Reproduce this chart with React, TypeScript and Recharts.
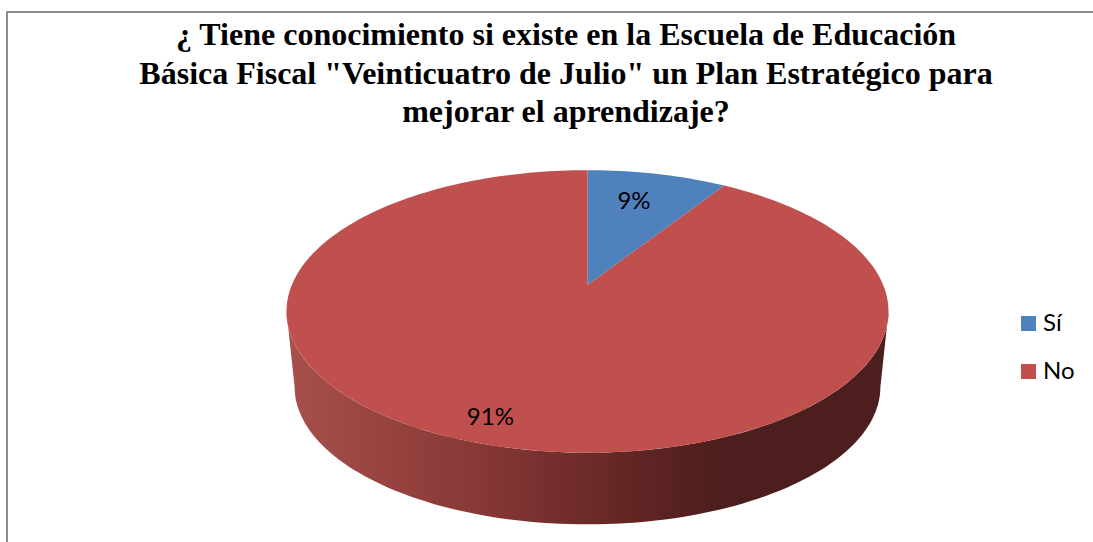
import { PieChart, Pie, Legend } from 'recharts';

const CATEGORIES = ['Sí', 'No'];
const VALUES = [9, 91];
const COLORS = ['#4f81bd', '#bf504d'];
const TITLE_LINES = [
  '¿ Tiene conocimiento si existe en la Escuela de Educación',
  'Básica Fiscal "Veinticuatro de Julio" un Plan Estratégico para',
  'mejorar el aprendizaje?',
];

const data = CATEGORIES.map((name, i) => ({ name, value: VALUES[i], fill: COLORS[i] }));

// the pie is seen in perspective, so its centre is not the middle of the ellipse
const PERSPECTIVE = 0.187;
const TILT = 0.461;
const WALL_START = 100.8;
const WALL_END = 259.2;
const WALL_DEPTH = 75.5;
const WALL_SHRINK = 0.973;
const LABEL_RADIUS = [0.734, 0.853];
const LABEL_SHIFT = [-7, -14];

function project(cx: number, cy: number, r: number, theta: number, f = 1) {
  const rad = (theta * Math.PI) / 180;
  const u = Math.sin(rad) * f;
  const v = Math.cos(rad) * f;
  const den = 1 + PERSPECTIVE * v;
  return { x: cx + (r * u) / den, y: cy - (r * TILT * v) / den };
}

function arcPoints(cx: number, cy: number, r: number, from: number, to: number) {
  const steps = Math.max(2, Math.ceil(Math.abs(to - from) / 1.5));
  const pts = [];
  for (let i = 0; i <= steps; i++) {
    pts.push(project(cx, cy, r, from + ((to - from) * i) / steps));
  }
  return pts;
}

const toPath = (pts: { x: number; y: number }[]) =>
  pts.map((p, i) => `${i ? 'L' : 'M'}${p.x.toFixed(2)},${p.y.toFixed(2)}`).join(' ');

function Slice3D(props: any) {
  const { cx, cy, outerRadius: r, startAngle, endAngle, fill } = props;
  const from = 90 - startAngle;
  const to = 90 - endAngle;
  const top = arcPoints(cx, cy, r, from, to);
  const wallFrom = Math.max(from, WALL_START);
  const wallTo = Math.min(to, WALL_END);
  let wall = '';
  if (wallTo > wallFrom) {
    const edge = arcPoints(cx, cy, r, wallFrom, wallTo);
    const midY = project(cx, cy, r, WALL_START).y;
    const lower = edge
      .map((p) => ({
        x: cx + (p.x - cx) * WALL_SHRINK,
        y: midY + WALL_DEPTH + (p.y - midY) * WALL_SHRINK,
      }))
      .reverse();
    wall = `${toPath(edge)} ${toPath(lower).replace('M', 'L')} Z`;
  }
  return (
    <g>
      {wall && <path d={wall} fill="url(#wallShade)" />}
      <path d={`M${cx},${cy} ${toPath(top).replace('M', 'L')} Z`} fill={fill} />
    </g>
  );
}

function sliceLabel(props: any) {
  const { cx, cy, outerRadius, midAngle, percent, index } = props;
  const p = project(cx, cy, outerRadius, 90 - midAngle, LABEL_RADIUS[index]);
  return (
    <text
      x={p.x + LABEL_SHIFT[index]}
      y={p.y - 1}
      textAnchor="middle"
      dominantBaseline="central"
      fontFamily="Lato, sans-serif"
      fontSize={24}
      fill="#000"
    >
      {`${Math.round(percent * 100)}%`}
    </text>
  );
}

function LegendList() {
  return (
    <div style={{ fontFamily: 'Lato, sans-serif', fontSize: 24, color: '#000' }}>
      {data.map((d) => (
        <div key={d.name} style={{ display: 'flex', alignItems: 'center', height: 48 }}>
          <span style={{ width: 15, height: 15, background: d.fill, marginRight: 7 }} />
          <span style={{ position: 'relative', top: -2 }}>{d.name}</span>
        </div>
      ))}
    </div>
  );
}

export default function App() {
  return (
    <div style={{ position: 'absolute', left: 0, top: 0, width: 1093, height: 542, background: '#fff' }}>
      <div
        style={{
          position: 'absolute',
          left: 6,
          top: 11,
          right: 0,
          bottom: 0,
          borderLeft: '2px solid #8c8c8c',
          borderTop: '2px solid #8c8c8c',
        }}
      />
      <PieChart
        width={1093}
        height={542}
        margin={{ top: 0, right: 0, bottom: 0, left: 0 }}
        style={{ position: 'absolute', left: 0, top: 0 }}
      >
        <defs>
          <linearGradient id="wallShade" gradientUnits="userSpaceOnUse" x1={287} y1={0} x2={889} y2={0}>
            <stop offset="0" stopColor="#a7504c" />
            <stop offset="0.3" stopColor="#8a3937" />
            <stop offset="0.55" stopColor="#652725" />
            <stop offset="0.72" stopColor="#4c1e1d" />
            <stop offset="1" stopColor="#4c1e1d" />
          </linearGradient>
        </defs>
        {TITLE_LINES.map((line, i) => (
          <text
            key={line}
            x={566}
            y={45 + i * 38.5}
            textAnchor="middle"
            fontFamily="'Liberation Serif', serif"
            fontWeight="bold"
            fontSize={32}
            fill="#000"
          >
            {line}
          </text>
        ))}
        <Pie
          data={data}
          dataKey="value"
          nameKey="name"
          cx={587.5}
          cy={285}
          outerRadius={295.7}
          startAngle={90}
          endAngle={-270}
          stroke="none"
          shape={Slice3D}
          label={sliceLabel}
          labelLine={false}
          isAnimationActive={false}
        />
        <Legend
          content={LegendList}
          wrapperStyle={{ position: 'absolute', left: 1021, top: 299, width: 72, height: 96 }}
        />
      </PieChart>
    </div>
  );
}
